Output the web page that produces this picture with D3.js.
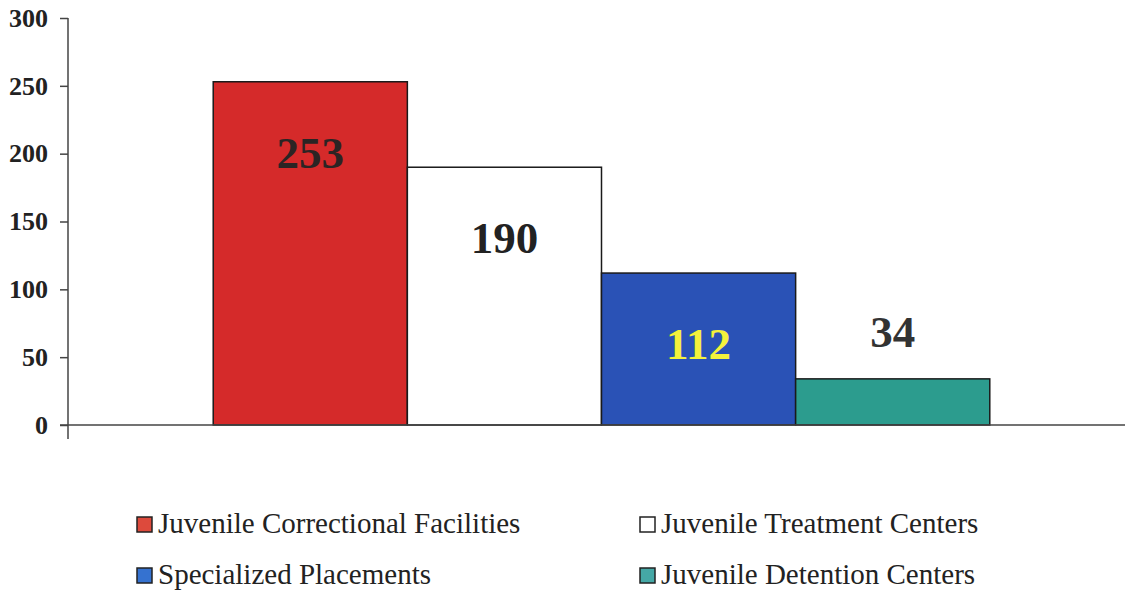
<!DOCTYPE html>
<html>
<head>
<meta charset="utf-8">
<script src="https://cdn.jsdelivr.net/npm/d3@7"></script>
<style>
  body { margin: 0; background: #fff; }
  svg text { font-family: 'Liberation Serif', 'Times New Roman', 'DejaVu Serif', serif; }
</style>
</head>
<body>
<div id="chart"></div>
<script>
// placements by facility type

var category = ['Placements']
var series = ['Juvenile Correctional Facilities', 'Juvenile Treatment Centers',
              'Specialized Placements', 'Juvenile Detention Centers']
var values = [253, 190, 112, 34]
var fills = ['#d52a2a', '#ffffff', '#2a52b6', '#2c9c8e']
var swatchFills = ['#dd4a3c', '#ffffff', '#3572d0', '#45a8a6']
var labelColors = ['#2b2424', '#222222', '#f4f23c', '#333333']
var yTicks = [0, 50, 100, 150, 200, 250, 300]

var serif = "'Liberation Serif', 'Times New Roman', 'DejaVu Serif', serif"

var width = 1125,
    height = 593,
    plotLeft = 68,
    plotRight = 1135,
    plotTop = 18,
    plotBottom = 425

var svg = d3.select('#chart')
  .append('svg')
    .attr('width', width)
    .attr('height', height)

var yScale = d3.scaleLinear()
  .domain([0, 300])
  .range([plotBottom, plotTop])

var xGroup = d3.scaleBand()
  .domain(category)
  .range([plotLeft, plotRight])
  .paddingInner(0)
  .paddingOuter(0.187)

var xSeries = d3.scaleBand()
  .domain(series)
  .range([0, xGroup.bandwidth()])

// y axis
var yAxis = svg.append('g')
  .attr('transform', 'translate(' + plotLeft + ',0)')
  .call(d3.axisLeft(yScale).tickValues(yTicks).tickSize(8).tickPadding(12))
yAxis.attr('font-family', serif)
yAxis.select('.domain').remove()
yAxis.selectAll('line').attr('stroke', '#444').attr('stroke-width', 1.5)
yAxis.selectAll('text')
  .attr('fill', '#222')
  .attr('font-family', serif)
  .attr('font-size', 26)
  .attr('font-weight', 'bold')

svg.append('line')
  .attr('x1', plotLeft).attr('x2', plotLeft)
  .attr('y1', plotTop).attr('y2', plotBottom + 14)
  .attr('stroke', '#444').attr('stroke-width', 1.5)

// bars
var g = svg.append('g')
  .attr('transform', 'translate(' + xGroup(category[0]) + ',0)')

g.selectAll('rect.bar').data(values)
  .enter().append('rect')
    .classed('bar', true)
    .attr('x', function(d, i){ return xSeries(series[i]) })
    .attr('y', function(d){ return yScale(d) })
    .attr('width', xSeries.bandwidth())
    .attr('height', function(d){ return yScale(0) - yScale(d) })
    .attr('fill', function(d, i){ return fills[i] })
    .attr('stroke', '#1a1a1a')
    .attr('stroke-width', 1.5)

g.selectAll('text.val').data(values)
  .enter().append('text')
    .classed('val', true)
    .text(function(d){ return d })
    .attr('x', function(d, i){ return xSeries(series[i]) + xSeries.bandwidth() / 2 })
    .attr('y', function(d){
      var h = yScale(0) - yScale(d)
      return h > 100 ? yScale(d) + 86 : yScale(d) - 32
    })
    .attr('text-anchor', 'middle')
    .attr('fill', function(d, i){ return labelColors[i] })
    .attr('font-family', serif)
    .attr('font-size', 45)
    .attr('font-weight', 'bold')

// x axis baseline
svg.append('line')
  .attr('x1', plotLeft - 8).attr('x2', width)
  .attr('y1', plotBottom).attr('y2', plotBottom)
  .attr('stroke', '#444').attr('stroke-width', 1.5)

// legend
var legendX = [137, 640],
    legendY = [517, 568]

var legend = svg.selectAll('g.legend').data(series)
  .enter().append('g')
    .classed('legend', true)
    .attr('transform', function(d, i){
      return 'translate(' + legendX[i % 2] + ',' + legendY[Math.floor(i / 2)] + ')'
    })

legend.append('rect')
  .attr('width', 15)
  .attr('height', 15)
  .attr('fill', function(d, i){ return swatchFills[i] })
  .attr('stroke', '#222')
  .attr('stroke-width', 1.5)

legend.append('text')
  .text(function(d){ return d })
  .attr('x', 21)
  .attr('y', 16)
  .attr('fill', '#222')
  .attr('font-family', serif)
  .attr('font-size', 29)
</script>
</body>
</html>
